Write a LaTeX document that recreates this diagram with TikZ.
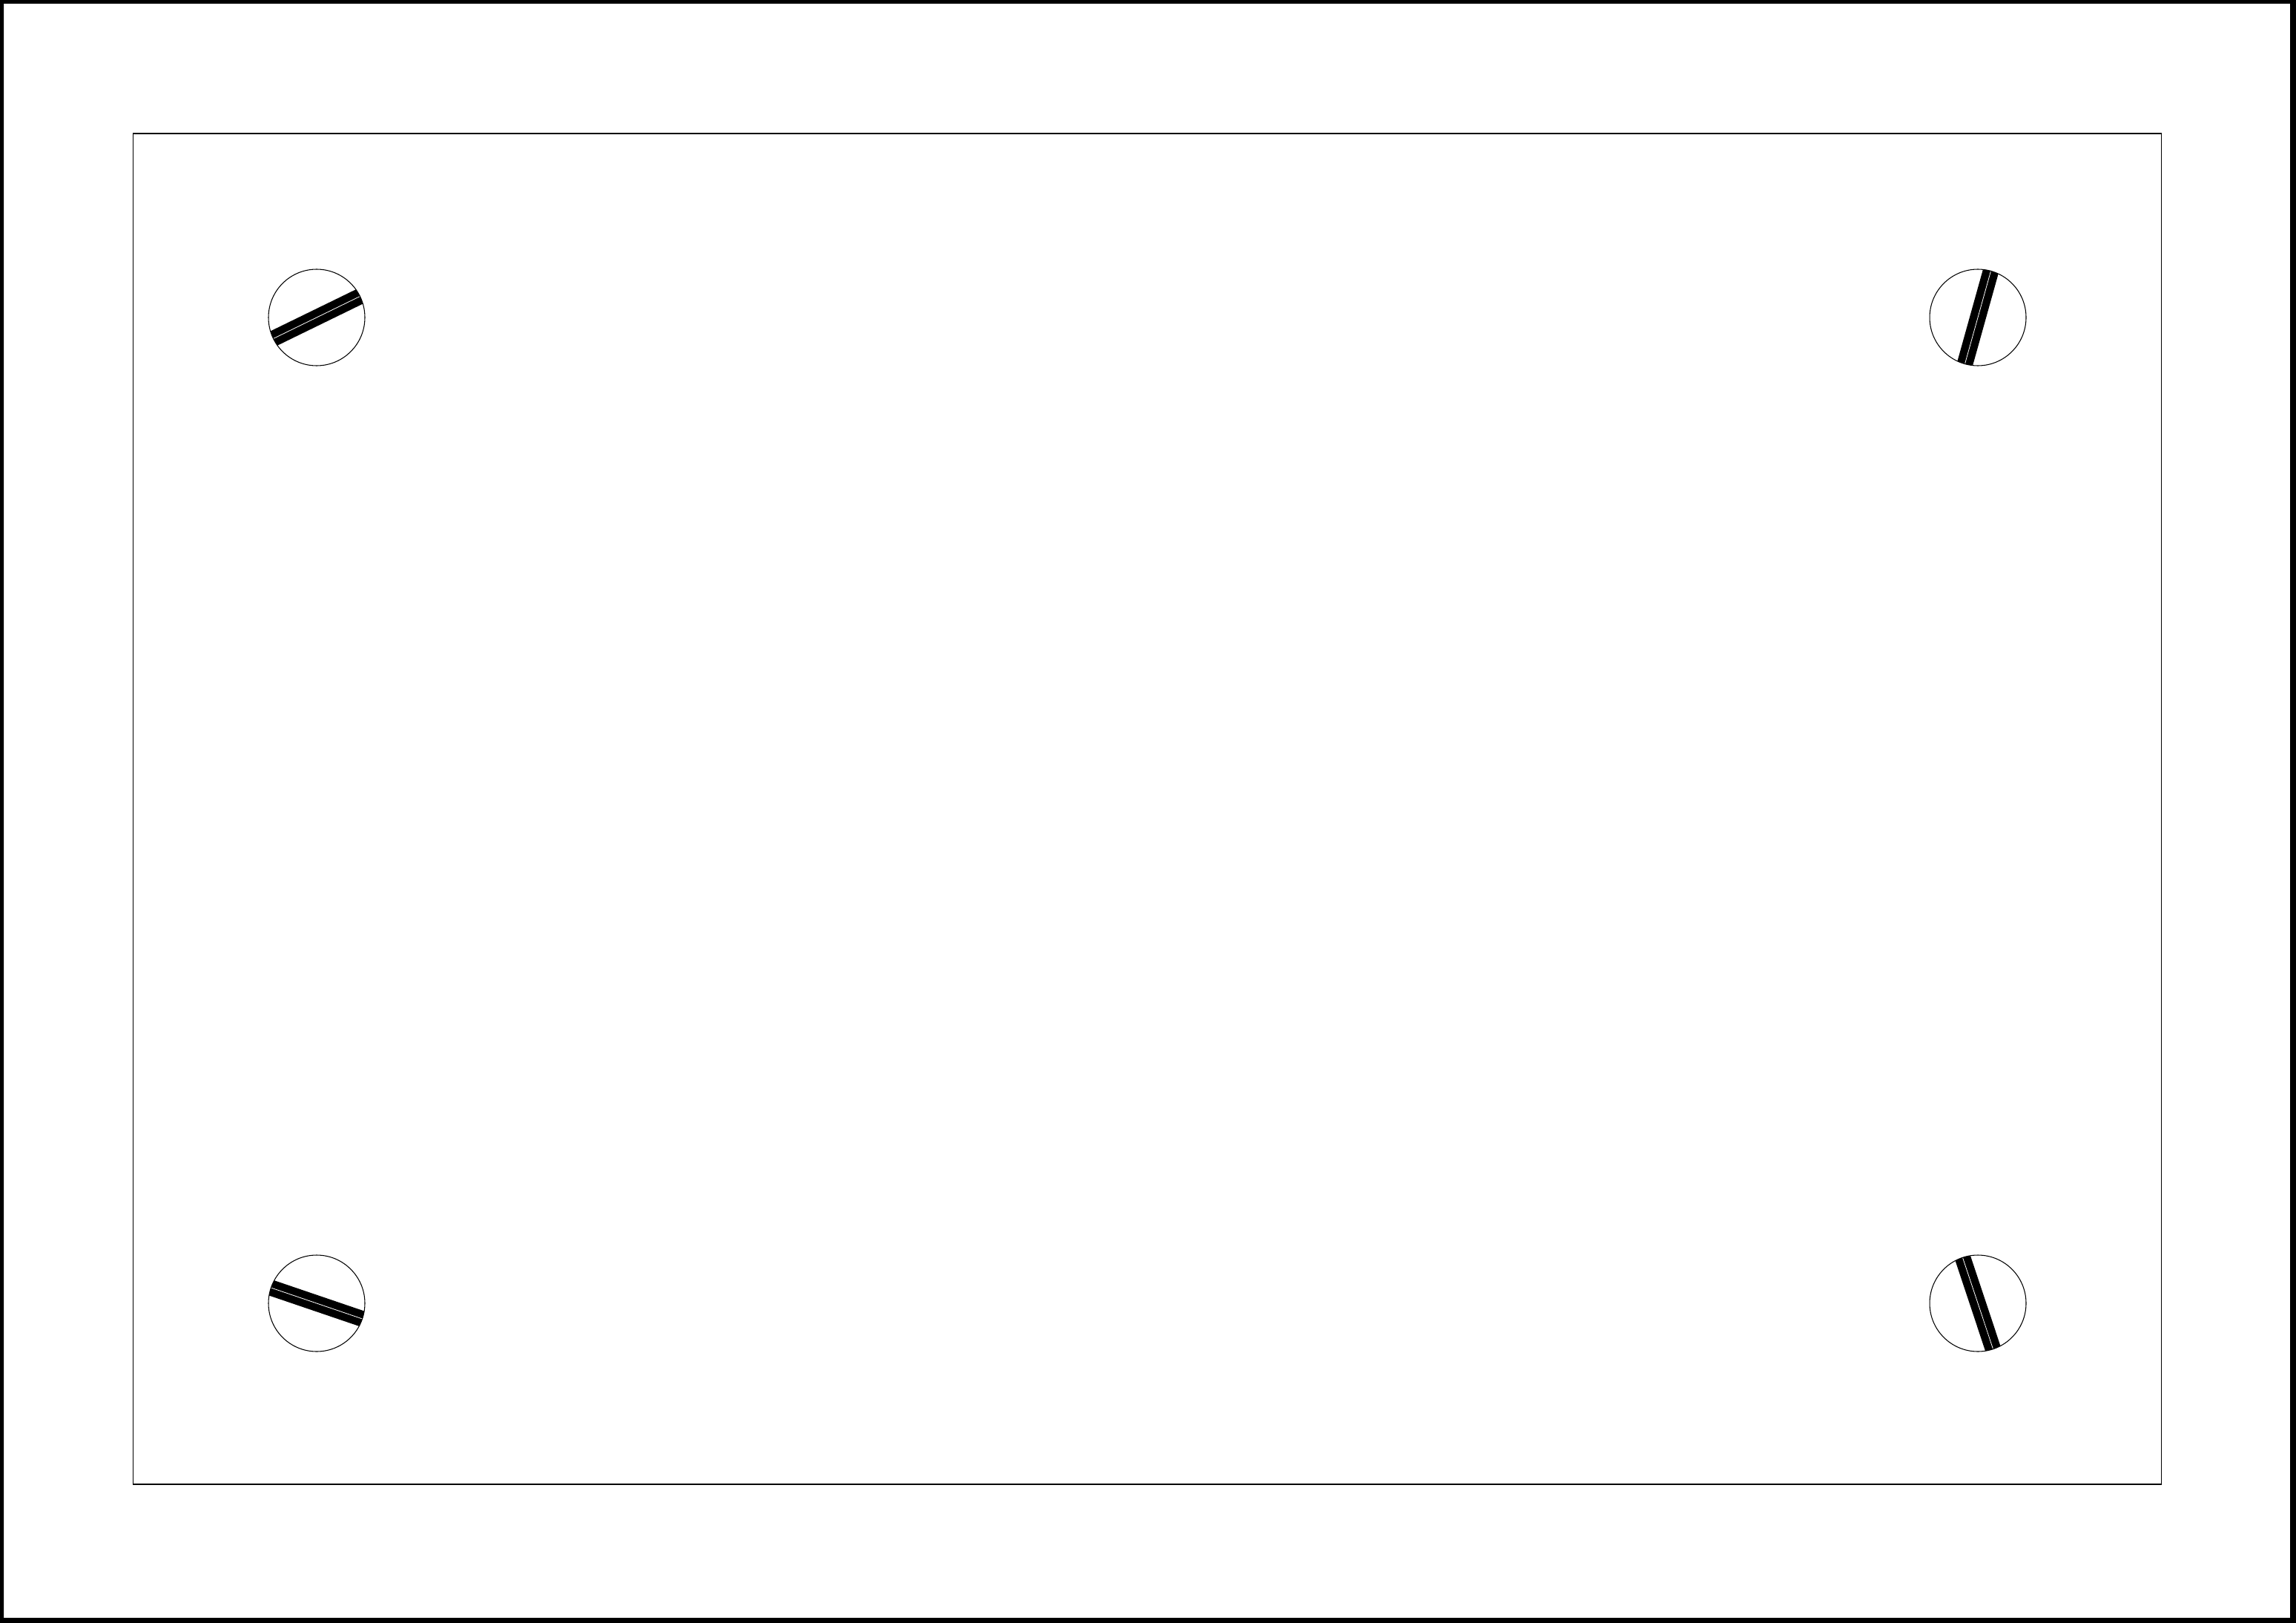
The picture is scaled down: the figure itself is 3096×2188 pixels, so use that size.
\documentclass[tikz,border=0pt]{standalone}
\usetikzlibrary{calc}
\def\screwrad{65}
\def\slotlen{90}
\tikzset{
  frame/.style     = {fill=black, even odd rule},
  plate/.style     = {draw=black, line width=0.3pt},
  screwhead/.style = {draw=black, line width=0.3pt},
  slot/.style      = {draw=black, line width=2.15mm},
  slotgap/.style   = {draw=white, line width=0.22pt}
}
\begin{document}
\begin{tikzpicture}[x=0.01cm,y=-0.01cm]
\useasboundingbox (0,0) rectangle (3096,2188);

% outer border
\fill[frame] (0,0) rectangle (3096,2188) (5,5) rectangle (3088,2181);

% plate outline
\draw[plate] (179.5,180) rectangle (2914,2001);

% -------------------- Screws --------------------
\foreach \cx/\cy/\ang [count=\s] in {427/428/-26, 2667/428/-74.4,
                                     427/1757/18.8, 2667/1757/71.6}{
  \coordinate (screw\s) at (\cx,\cy);
  \begin{scope}
    \clip (screw\s) circle[radius=\screwrad];
    \draw[slot] ($(screw\s)+(\ang:-\slotlen)$) -- ($(screw\s)+(\ang:\slotlen)$);
    \draw[slotgap] ($(screw\s)+(\ang:-\slotlen)$) -- ($(screw\s)+(\ang:\slotlen)$);
  \end{scope}
  \draw[screwhead] (screw\s) circle[radius=\screwrad];
}

\end{tikzpicture}
\end{document}
